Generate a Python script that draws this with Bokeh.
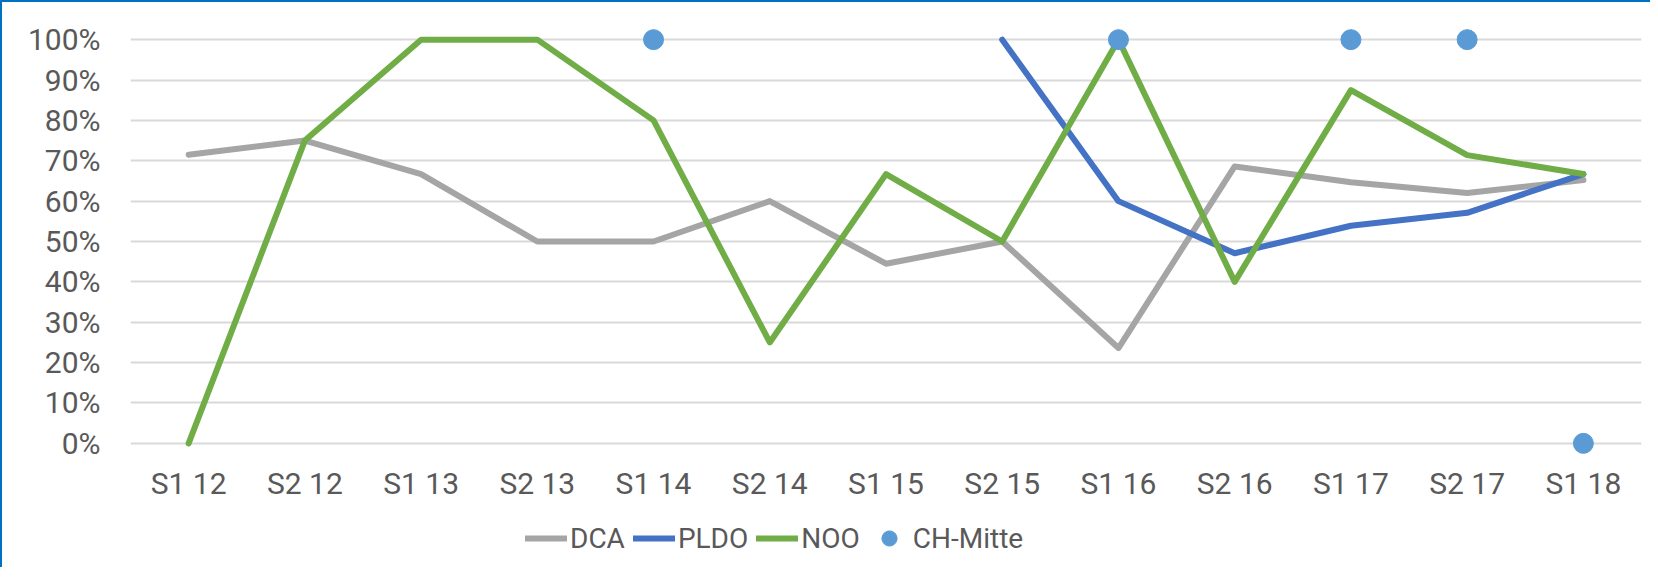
import numpy as np
from bokeh.plotting import figure
from bokeh.layouts import column
from bokeh.models import FactorRange, Range1d, FixedTicker, NumeralTickFormatter, Legend, LegendItem
from bokeh.embed import file_html
from bokeh.resources import INLINE

categories = ["S1 12", "S2 12", "S1 13", "S2 13", "S1 14", "S2 14", "S1 15",
              "S2 15", "S1 16", "S2 16", "S1 17", "S2 17", "S1 18"]
nan = float("nan")
dca = [0.715, 0.75, 0.667, 0.50, 0.50, 0.60, 0.445, 0.50, 0.236, 0.686, 0.647, 0.62, 0.652]
pldo = [nan, nan, nan, nan, nan, nan, nan, 1.0, 0.60, 0.471, 0.539, 0.571, 0.667]
noo = [0.0, 0.75, 1.0, 1.0, 0.80, 0.25, 0.667, 0.50, 1.0, 0.40, 0.875, 0.714, 0.667]
ch_mitte = [nan, nan, nan, nan, 1.0, nan, nan, nan, 1.0, nan, 1.0, 1.0, 0.0]
series_names = ["DCA", "PLDO", "NOO", "CH-Mitte"]
y_ticks = [0, 0.1, 0.2, 0.3, 0.4, 0.5, 0.6, 0.7, 0.8, 0.9, 1.0]

TEXT = "#595959"
FONT = "Roboto"
BORDER = "2px solid #0070C0"
C_DCA, C_PLDO, C_NOO, C_CH = "#A5A5A5", "#4472C4", "#70AD47", "#5B9BD5"
LW = 6

# ---- main chart ----
p = figure(width=1650, height=507, x_range=FactorRange(factors=categories),
           y_range=Range1d(-0.04, 1.04), output_backend="svg", toolbar_location=None,
           min_border_left=128, min_border_right=11, min_border_top=21, min_border_bottom=50)
p.styles = {"border-top": BORDER, "border-left": BORDER}
p.outline_line_color = None
p.xgrid.grid_line_color = None
p.ygrid.grid_line_color = "#D9D9D9"
p.ygrid.grid_line_width = 2
p.yaxis.ticker = FixedTicker(ticks=y_ticks)
p.yaxis.formatter = NumeralTickFormatter(format="0%")
for ax in (p.xaxis[0], p.yaxis[0]):
    ax.axis_line_color = None
    ax.major_tick_line_color = None
    ax.minor_tick_line_color = None
    ax.major_tick_out = 0
    ax.major_tick_in = 0
    ax.major_label_text_color = TEXT
    ax.major_label_text_font = FONT
    ax.major_label_text_font_size = "30px"
p.yaxis.major_label_standoff = 30
p.xaxis.major_label_standoff = 6

p.line(categories, dca, line_color=C_DCA, line_width=LW, line_cap="round", line_join="round")
p.line(categories, pldo, line_color=C_PLDO, line_width=LW, line_cap="round", line_join="round")
p.line(categories, noo, line_color=C_NOO, line_width=LW, line_cap="round", line_join="round")
p.scatter(categories, ch_mitte, size=20, fill_color=C_CH, line_color=C_CH)

# ---- legend strip: same series, drawn outside its visible range, legend only ----
q = figure(width=1650, height=60, output_backend="svg", toolbar_location=None,
           x_range=FactorRange(factors=categories), y_range=Range1d(5, 6),
           x_axis_location=None, y_axis_location=None,
           min_border_left=0, min_border_right=0, min_border_top=0, min_border_bottom=0)
q.styles = {"border-left": BORDER}
q.outline_line_color = None
q.grid.grid_line_color = None
l_dca = q.line(categories, dca, line_color=C_DCA, line_width=LW, line_cap="round")
l_pldo = q.line(categories, pldo, line_color=C_PLDO, line_width=LW, line_cap="round")
l_noo = q.line(categories, noo, line_color=C_NOO, line_width=LW, line_cap="round")
l_ch = q.scatter(categories, ch_mitte, size=20, fill_color=C_CH, line_color=C_CH)

legend = Legend(items=[LegendItem(label=n, renderers=[r])
                       for n, r in zip(series_names, [l_dca, l_pldo, l_noo, l_ch])],
                orientation="horizontal", location=(395, 10),
                glyph_width=42, glyph_height=38, label_standoff=3, spacing=8,
                padding=0, margin=0, border_line_color=None, background_fill_alpha=0,
                label_text_font=FONT, label_text_font_size="28px",
                label_text_color=TEXT)
q.add_layout(legend, "center")

layout = column(p, q, spacing=0)
open("out.html", "w").write(file_html(layout, INLINE))
